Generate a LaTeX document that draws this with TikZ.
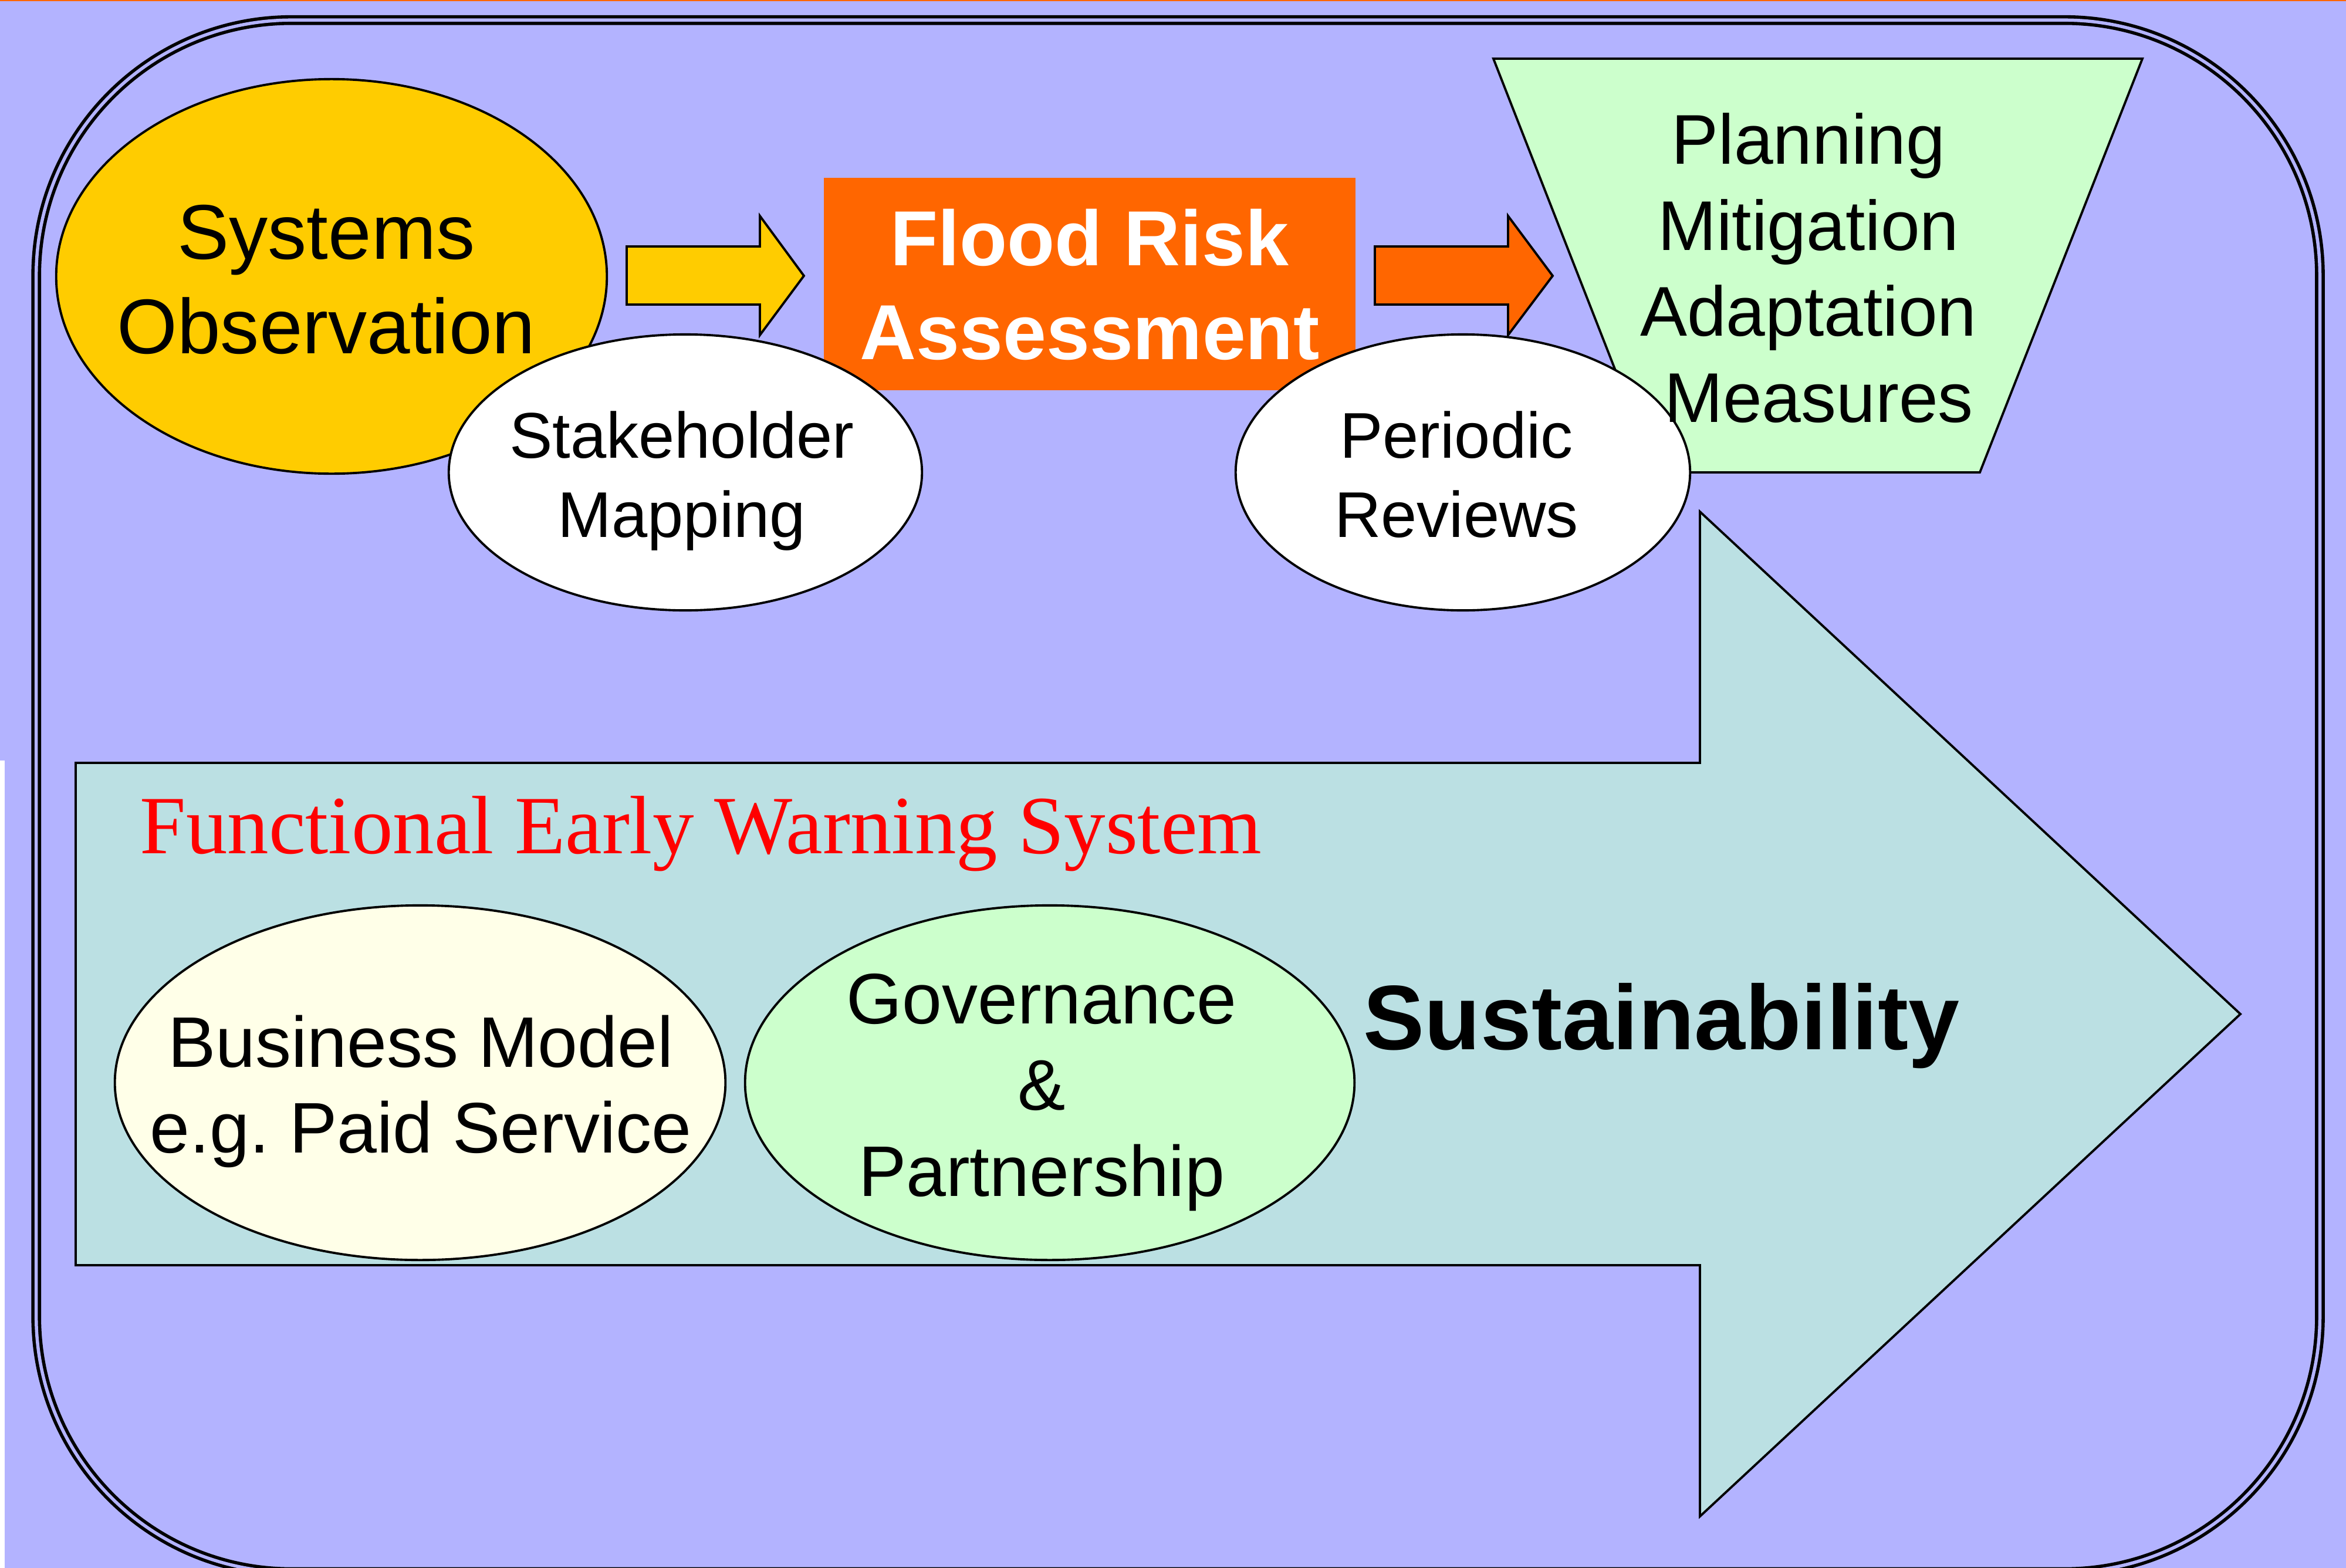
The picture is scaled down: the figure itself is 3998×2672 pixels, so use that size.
\documentclass[tikz,border=0pt]{standalone}
\usepackage{fontspec}
\setmainfont{Liberation Sans}
\newfontfamily\seriff{Liberation Serif}
\usetikzlibrary{shapes.geometric}
\definecolor{lav}{HTML}{B3B3FF}
\definecolor{yel}{HTML}{FFCC00}
\definecolor{orng}{HTML}{FF6600}
\definecolor{mint}{HTML}{CCFFCC}
\definecolor{teal1}{HTML}{BBE0E3}
\definecolor{cream}{HTML}{FFFFE8}
\definecolor{red1}{HTML}{FF0000}
\frenchspacing
\newcommand\mylines[3]{\fontsize{#1}{#2}\selectfont\begin{tabular}[t]{@{}c@{}}#3\end{tabular}}
\tikzset{
  shapeline/.style={draw=black, line width=1.1pt, line join=miter},
  ell/.style={shape=ellipse, draw=black, line width=1.1pt, inner sep=0pt},
  txt/.style={inner sep=0pt, anchor=base}
}
\begin{document}
\begin{tikzpicture}[x=0.01cm,y=-0.01cm]
\useasboundingbox (0,0) rectangle (3998,2672);
% background
\fill[lav] (0,0) rectangle (3998,2672);
\fill[orng] (0,0) rectangle (3998,1.5);
\fill[white] (0,1296) rectangle (8,2672);
% double rounded frame
\draw[line width=1.59pt, double=lav, double distance=1.56pt, rounded corners=4.35cm] (61.7,34.2) rectangle (3953.5,2679);

% top row
\node[ell, fill=yel, minimum width=9.38cm, minimum height=6.72cm] (sysobs) at (565,471) {};
\draw[shapeline, fill=yel] (1068,420) -- (1295,420) -- (1295,368) -- (1370,470) -- (1295,571) -- (1295,519) -- (1068,519) -- cycle;
\node[fill=orng, inner sep=0pt, minimum width=9.06cm, minimum height=3.62cm] (fra) at (1857,484) {};
\draw[shapeline, fill=orng] (2343,420) -- (2570,420) -- (2570,368) -- (2646,470) -- (2570,571) -- (2570,519) -- (2343,519) -- cycle;
\draw[shapeline, fill=mint] (2545,100) -- (3651,100) -- (3374,805) -- (2821,805) -- cycle;
\coordinate (plan) at (3082,279);
\node[ell, fill=white, minimum width=8.06cm, minimum height=4.70cm] (stake) at (1168,805) {};
\node[ell, fill=white, minimum width=7.74cm, minimum height=4.70cm] (periodic) at (2493,805) {};

% big arrow
\draw[shapeline, fill=teal1] (129,1300) -- (2897,1300) -- (2897,872) -- (3818,1728) -- (2897,2584) -- (2897,2156) -- (129,2156) -- cycle;
\node[ell, fill=cream, minimum width=10.40cm, minimum height=6.04cm] (business) at (716,1845) {};
\node[ell, fill=mint, minimum width=10.38cm, minimum height=6.04cm] (gov) at (1789,1845) {};

% texts
\node[txt] (sysobstxt) at (556,441) {\mylines{37.6}{45.8}{Systems\\Observation}};
\node[txt, text=white] (fratxt) at (1857,452) {\mylines{37.8}{45.5}{\bfseries Flood Risk\\\bfseries Assessment}};
\node[txt] (staketxt) at (1162,780) {\mylines{31.3}{38.4}{Stakeholder\\Mapping}};
\node[txt] (periodictxt) at (2482,780) {\mylines{31.3}{38.4}{Periodic\\Reviews}};
\node[txt] (plantxt) at (plan) {\mylines{34.1}{41.8}{Planning\\Mitigation\\Adaptation\\\hspace*{10pt}Measures}};
\node[txt, anchor=base west, text=red1] (fewstxt) at (238,1454) {\seriff\fontsize{40.1}{48}\selectfont Functional Early Warning System};
\node[txt] (businesstxt) at (717,1818) {\mylines{34.7}{41.6}{Business Model\\e.g. Paid Service}};
\node[txt] (govtxt) at (1775,1744) {\mylines{34.7}{41.8}{Governance\\\&\\Partnership}};
\node[txt, anchor=base west] (sustxt) at (2323,1788) {\fontsize{44.4}{53}\selectfont\bfseries Sustainability};
\end{tikzpicture}
\end{document}
